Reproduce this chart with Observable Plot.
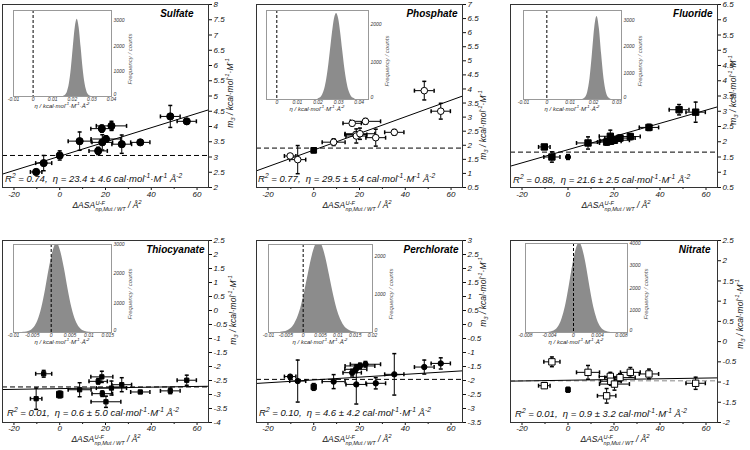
<!DOCTYPE html>
<html><head><meta charset="utf-8">
<script src="https://cdn.jsdelivr.net/npm/d3@7"></script>
<script src="https://cdn.jsdelivr.net/npm/@observablehq/plot@0.6"></script>
<style>
body{margin:0;background:#fff;}
#wrap{position:relative;width:750px;height:450px;overflow:hidden;background:#fff;font-family:"Liberation Sans",Arial,sans-serif;}
#wrap svg{position:absolute;}
.ov{position:absolute;font-style:italic;color:#111;white-space:nowrap;line-height:1;}
.ov sup,.ov sub{font-size:70%;line-height:0;}
.stk{display:inline-flex;flex-direction:column;font-size:5.5px;line-height:5.5px;vertical-align:3px;margin-left:0.5px;}
</style></head><body><div id="wrap"></div>
<script>
// ---------------- data ----------------
const anions = ["Sulfate","Phosphate","Fluoride","Thiocyanate","Perchlorate","Nitrate"];
// ΔASA (np, Mut/WT) of each variant, Å²  (index 2 = WT)
const asa    = [-10.3, -7.0, 0, 8.7, 16.8, 18.4, 18.6, 20.2, 22.6, 27.1, 35.2, 48.3, 55.5];
const asaErr = [2.5, 3.5, 0, 5.0, 4.0, 4.8, 4.5, 6.5, 6.6, 4.3, 4.2, 4.3, 4.2];
const wtIndex = 2;

const m3Sulfate        = [2.51, 2.80, 3.05, 3.52, 3.20, 3.93, 3.48, 3.59, 4.02, 3.42, 3.48, 4.33, 4.17];
const m3SulfateErr     = [0.08, 0.25, 0.15, 0.30, 0.12, 0.12, 0.25, 0.10, 0.15, 0.30, 0.08, 0.36, 0.08];
const m3Phosphate      = [1.62, 1.49, 1.82, 2.11, 2.78, 2.38, 2.33, 2.41, 2.85, 2.27, 2.46, 3.94, 3.21];
const m3PhosphateErr   = [0.08, 0.50, 0.08, 0.12, 0.08, 0.10, 0.25, 0.20, 0.10, 0.30, 0.10, 0.33, 0.28];
const m3Fluoride       = [1.83, 1.50, 1.50, 1.96, 1.99, 2.18, 2.02, 2.05, 2.12, 2.17, 2.47, 3.05, 2.97];
const m3FluorideErr    = [0.05, 0.17, 0.08, 0.20, 0.10, 0.20, 0.10, 0.10, 0.10, 0.10, 0.10, 0.17, 0.33];
const m3Thiocyanate    = [-3.15, -2.26, -3.00, -2.83, -2.53, -2.37, -2.97, -3.26, -2.77, -2.65, -2.91, -2.87, -2.49];
const m3ThiocyanateErr = [0.38, 0.12, 0.12, 0.25, 0.10, 0.20, 0.10, 0.20, 0.25, 0.25, 0.05, 0.10, 0.18];
const m3Perchlorate    = [-1.86, -2.02, -2.23, -2.04, -1.72, -1.60, -2.14, -1.48, -1.42, -2.10, -1.78, -1.52, -1.39];
const m3PerchlorateErr = [0.05, 0.75, 0.12, 0.25, 0.12, 0.12, 0.70, 0.10, 0.10, 0.20, 0.74, 0.25, 0.20];
const m3Nitrate        = [-1.09, -0.50, -1.19, -0.76, -1.34, -0.86, -0.98, -1.05, -0.89, -0.76, -0.80, null, -1.03];
const m3NitrateErr     = [0.06, 0.12, 0.06, 0.17, 0.18, 0.10, 0.10, 0.15, 0.10, 0.12, 0.12, null, 0.15];

const fitIntercept = [3.025, 1.83, 1.74, -2.79, -1.98, -0.955];
const fitSlope     = [0.0234, 0.0295, 0.0216, 0.0013, 0.0050, 0.0009];
const dashLevel    = [3.05, 1.90, 1.66, -2.73, -1.96, -0.97];
const r2Text       = ["0.74", "0.77", "0.88", "0.01", "0.10", "0.01"];
const etaText      = ["23.4", "29.5", "21.6", "0.6", "4.6", "0.9"];
const etaErrText   = ["4.6", "5.4", "2.5", "5.0", "4.2", "3.2"];

// bootstrap histograms of η (kcal·mol⁻¹·M⁻¹·Å⁻²): bin centres and counts
const etaSulfate = [0.0155,0.0165,0.0175,0.0185,0.0195,0.0205,0.0215,0.0225,0.0235,0.0245,0.0255,0.0265,0.0275,0.0285,0.0295];
const countSulfate = [12,52,180,500,1100,1940,2720,3050,2720,1940,1100,500,180,52,12];
const etaPhosphate = [0.020,0.021,0.022,0.023,0.024,0.025,0.026,0.027,0.028,0.029,0.030,0.031,0.032,0.033,0.034,0.035,0.036,0.037,0.038];
const countPhosphate = [13,39,101,232,467,830,1300,1780,2160,2300,2160,1780,1300,830,467,232,101,39,13];
const etaFluoride = [0.0155,0.0165,0.0175,0.0185,0.0195,0.0205,0.0215,0.0225,0.0235,0.0245,0.0255,0.0265,0.0275];
const countFluoride = [12,66,267,785,1700,2700,3150,2700,1700,785,267,66,12];
const etaThiocyanate = [-0.0075,-0.0065,-0.0055,-0.0045,-0.0035,-0.0025,-0.0015,-0.0005,0.0005,0.0015,0.0025,0.0035,0.0045,0.0055,0.0065,0.0075,0.0085,0.0095,0.0105];
const countThiocyanate = [5,18,59,168,406,834,1460,2180,2770,3050,2770,2180,1460,834,406,168,59,18,5];
const etaPerchlorate = [-0.0065,-0.0055,-0.0045,-0.0035,-0.0025,-0.0015,-0.0005,0.0005,0.0015,0.0025,0.0035,0.0045,0.0055,0.0065,0.0075,0.0085,0.0095,0.0105,0.0115,0.0125,0.0135,0.0145,0.0155];
const countPerchlorate = [7,18,46,105,219,414,708,1099,1546,1975,2285,2420,2285,1975,1546,1099,708,414,219,105,46,18,7];
const etaNitrate = [-0.0045,-0.004,-0.0035,-0.003,-0.0025,-0.002,-0.0015,-0.001,-0.0005,0,0.0005,0.001,0.0015,0.002,0.0025,0.003,0.0035,0.004,0.0045,0.005,0.0055,0.006,0.0065];
const countNitrate = [5,15,44,114,263,541,998,1645,2430,3200,3780,4050,3780,3200,2430,1645,998,541,263,114,44,15,5];

const xTicks = [-20, 0, 20, 40, 60];
const xMinorTicks = [-10, 10, 30, 50];
const xDomain = [-25, 65];

const m3Values = [m3Sulfate, m3Phosphate, m3Fluoride, m3Thiocyanate, m3Perchlorate, m3Nitrate];
const m3Errors = [m3SulfateErr, m3PhosphateErr, m3FluorideErr, m3ThiocyanateErr, m3PerchlorateErr, m3NitrateErr];
const histEta = [etaSulfate, etaPhosphate, etaFluoride, etaThiocyanate, etaPerchlorate, etaNitrate];
const histCount = [countSulfate, countPhosphate, countFluoride, countThiocyanate, countPerchlorate, countNitrate];

// ---------------- layout / style ----------------
const FONT = '"Liberation Sans", Arial, sans-serif';
const panelBox = [
  {left:0,   top:0,   ml:2,  mr:42, mt:4,  mb:38, yd:[2,8],     tdx:-15, tp:1},
  {left:250, top:0,   ml:6,  mr:38, mt:4,  mb:38, yd:[0.5,7],   tdx:-5,  tp:1},
  {left:500, top:0,   ml:10, mr:33, mt:4,  mb:38, yd:[0.5,6.5], tdx:-5,  tp:1},
  {left:0,   top:225, ml:2,  mr:42, mt:15, mb:28, yd:[-4,2.5],  tdx:-4,  tp:0},
  {left:250, top:225, ml:6,  mr:38, mt:15, mb:28, yd:[-3.5,3],  tdx:-4,  tp:0},
  {left:500, top:225, ml:10, mr:33, mt:15, mb:28, yd:[-2,2.5],  tdx:-7,  tp:0}
];
const markerStyle = [
  {sym:"circle", r:3.6, fill:"#000", wsym:"circle", wr:3.6, wfill:"#000"},
  {sym:"circle", r:3.3, fill:"#fff", wsym:"square", wr:3.2, wfill:"#000"},
  {sym:"square", r:3.6, fill:"#000", wsym:"circle", wr:2.6, wfill:"#000"},
  {sym:"square", r:2.4, fill:"#000", wsym:"square", wr:3.6, wfill:"#000"},
  {sym:"circle", r:2.7, fill:"#000", wsym:"square", wr:3.0, wfill:"#000"},
  {sym:"square", r:3.6, fill:"#fff", wsym:"square", wr:2.6, wfill:"#000"}
];
const dashColor = ["#000","#000","#000","#000","#000","#888"];
const insetBox = [
  {l:13,  t:10,  w:98,  h:86, xd:[-0.01,0.04],   yd:[0,3400], xt:[-0.01,0,0.01,0.02,0.03,0.04], yt:[0,1000,2000,3000]},
  {l:266, t:10,  w:102, h:89, xd:[-0.005,0.0445],yd:[0,2380], xt:[0,0.01,0.02,0.03,0.04], yt:[0,1000,2000]},
  {l:523, t:10,  w:98,  h:89, xd:[-0.01,0.032],  yd:[0,3380], xt:[-0.01,0,0.01,0.02,0.03], yt:[0,1000,2000,3000]},
  {l:13,  t:244, w:98,  h:88, xd:[-0.01,0.016],  yd:[0,3000], xt:[-0.01,-0.005,0,0.005,0.01,0.015], yt:[0,1000,2000,3000]},
  {l:268, t:244, w:104, h:88, xd:[-0.01,0.02],   yd:[0,2320], xt:[-0.01,-0.005,0,0.005,0.01,0.015,0.02], yt:[0,1000,2000]},
  {l:525, t:243, w:102, h:89, xd:[-0.008,0.009], yd:[0,4000], xt:[-0.008,-0.004,0,0.004,0.008], yt:[0,1000,2000,3000,4000]}
];
const xLabelPos = [[107,206],[357,206],[616,206],[106,440],[357,440],[615,440]];
const yLabelPos = [[230,93],[483,125],[733,90],[233,310],[483,292],[740,314]];
const r2Pos = [[5,183],[258,183],[513,184],[7,417],[259,417],[515,418]];

const capH = {draw(ctx, size){ const r = Math.sqrt(size/Math.PI); ctx.moveTo(-r,0); ctx.lineTo(r,0); }};
const capV = {draw(ctx, size){ const r = Math.sqrt(size/Math.PI); ctx.moveTo(0,-r); ctx.lineTo(0,r); }};

const wrap = document.getElementById("wrap");

function place(svg, left, top){ svg.style.left = left+"px"; svg.style.top = top+"px"; wrap.appendChild(svg); }
function overlay(html, left, top, style){
  const d = document.createElement("div");
  d.className = "ov"; d.innerHTML = html;
  d.style.left = left+"px"; d.style.top = top+"px";
  Object.assign(d.style, style||{});
  wrap.appendChild(d); return d;
}

function drawPanel(i){
  const B = panelBox[i], S = markerStyle[i];
  const ys = m3Values[i], es = m3Errors[i];
  const rows = asa.map((x,k)=>({x, xe:asaErr[k], y:ys[k], ye:es[k], wt:k===wtIndex})).filter(d=>d.y!=null);
  const fit = xDomain.map(x=>({x, y: fitIntercept[i] + fitSlope[i]*x}));
  const yTicks = d3.range(B.yd[0], B.yd[1]+1e-9, 0.5);
  const xe = rows.filter(d=>d.xe>0), ye = rows.filter(d=>d.ye>0);
  const svg = Plot.plot({
    width:250, height:225,
    marginLeft:B.ml, marginRight:B.mr, marginTop:B.mt, marginBottom:B.mb,
    style:{fontFamily:FONT, fontSize:"8px", fontStyle:"italic", background:"transparent", color:"#111", overflow:"visible"},
    x:{domain:xDomain, label:null},
    y:{domain:B.yd, label:null},
    marks:[
      Plot.axisX({ticks:xTicks, tickSize:3, tickPadding:B.tp, tickFormat:d=>String(d), label:null}),
      Plot.axisX({ticks:xMinorTicks, tickSize:2, tickFormat:()=>"", label:null}),
      Plot.axisY({anchor:"right", ticks:yTicks, tickSize:3, tickPadding:2, tickFormat:d=>String(+d.toFixed(1)), label:null}),
      Plot.ruleY([dashLevel[i]], {stroke:dashColor[i], strokeWidth:1, strokeDasharray:"5,3"}),
      Plot.line(fit, {x:"x", y:"y", stroke:"#000", strokeWidth:1}),
      Plot.ruleY(xe, {y:"y", x1:d=>d.x-d.xe, x2:d=>d.x+d.xe, stroke:"#000", strokeWidth:1}),
      Plot.ruleX(ye, {x:"x", y1:d=>d.y-d.ye, y2:d=>d.y+d.ye, stroke:"#000", strokeWidth:1}),
      Plot.dot(xe, {x:d=>d.x-d.xe, y:"y", symbol:capV, r:2, stroke:"#000", fill:"none"}),
      Plot.dot(xe, {x:d=>d.x+d.xe, y:"y", symbol:capV, r:2, stroke:"#000", fill:"none"}),
      Plot.dot(ye, {x:"x", y:d=>d.y-d.ye, symbol:capH, r:2, stroke:"#000", fill:"none"}),
      Plot.dot(ye, {x:"x", y:d=>d.y+d.ye, symbol:capH, r:2, stroke:"#000", fill:"none"}),
      Plot.dot(rows.filter(d=>!d.wt), {x:"x", y:"y", symbol:S.sym, r:S.r, fill:S.fill, stroke:"#000", strokeWidth:1}),
      Plot.dot(rows.filter(d=>d.wt), {x:"x", y:"y", symbol:S.wsym, r:S.wr, fill:S.wfill, stroke:"#000", strokeWidth:1}),
      Plot.frame({stroke:"#333", strokeWidth:1}),
      Plot.text([anions[i]], {frameAnchor:"top-right", dx:B.tdx, dy:5, text:d=>d, fontWeight:"bold", fontSize:10, fill:"#000"})
    ]
  });
  place(svg, B.left, B.top);
}

function drawInset(i){
  const F = insetBox[i];
  const hist = histEta[i].map((e,k)=>({eta:e, n:histCount[i][k]}));
  const svg = Plot.plot({
    width:F.w+24, height:F.h+10,
    marginLeft:2, marginTop:2, marginRight:22, marginBottom:8,
    style:{fontFamily:FONT, fontSize:"5px", fontStyle:"italic", background:"transparent", color:"#333", overflow:"visible"},
    x:{domain:F.xd, label:null},
    y:{domain:F.yd, label:null},
    marks:[
      Plot.rect([0], {x1:F.xd[0], x2:F.xd[1], y1:F.yd[0], y2:F.yd[1], fill:"#fff"}),
      Plot.areaY(hist, {x:"eta", y:"n", fill:"#8c8c8c", curve:"monotone-x", clip:true}),
      Plot.ruleX([0], {stroke:"#000", strokeWidth:1, strokeDasharray:"3,2"}),
      Plot.frame({stroke:"#999", strokeWidth:1}),
      Plot.axisX({ticks:F.xt, tickSize:0, tickPadding:1, tickFormat:d=>String(d), label:null}),
      Plot.axisY({anchor:"right", ticks:F.yt.filter(v=>v>0), tickSize:0, tickPadding:2, tickFormat:d=>String(d), label:null}),
      Plot.axisY({anchor:"right", ticks:[0], tickSize:0, tickPadding:2, dy:-2, tickFormat:d=>String(d), label:null})
    ]
  });
  place(svg, F.l-2, F.t-2);
  overlay("η / kcal·mol<sup>-1</sup>·M<sup>-1</sup>·Å<sup>-2</sup>", F.l+F.w/2, F.t+F.h+7,
    {fontSize:"6px", transform:"translateX(-50%)", color:"#222"});
  overlay("Frequency / counts", F.l+F.w+19, F.t+F.h/2+6,
    {fontSize:"6px", transform:"translate(-50%,-50%) rotate(-90deg)", color:"#555"});
}

function drawLabels(i){
  const [xc, xy] = xLabelPos[i];
  overlay('ΔASA<span class="stk"><span>U-F</span><span>np,Mut / WT</span></span> / Å<sup>2</sup>', xc, xy-5,
    {fontSize:"8.5px", transform:"translateX(-50%)"});
  const [yc, yy] = yLabelPos[i];
  overlay("m<sub>3</sub> / kcal·mol<sup>-1</sup>·M<sup>-1</sup>", yc, yy,
    {fontSize:"8.5px", transform:"translate(-50%,-50%) rotate(-90deg)"});
  const [rx, ry] = r2Pos[i];
  overlay(`R<sup>2</sup> = ${r2Text[i]},&nbsp; η = ${etaText[i]} ± ${etaErrText[i]} cal·mol<sup>-1</sup>·M<sup>-1</sup> Å<sup>-2</sup>`,
    rx, ry-9, {fontSize:"9.5px"});
}

for (let i=0;i<6;i++){ drawPanel(i); }
for (let i=0;i<6;i++){ drawInset(i); drawLabels(i); }
</script></body></html>
